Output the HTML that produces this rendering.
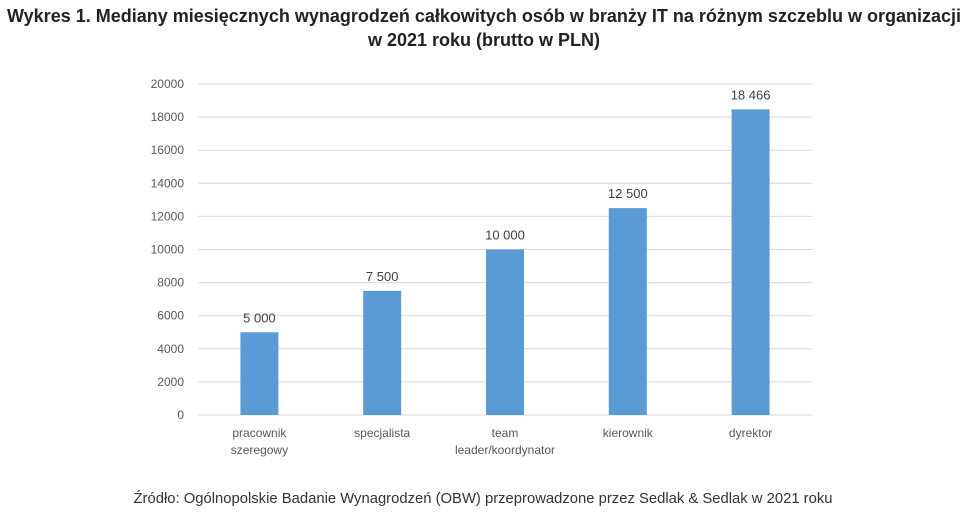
<!DOCTYPE html>
<html><head><meta charset="utf-8"><style>
body{margin:0;background:#fff;width:968px;height:516px;overflow:hidden;font-family:"Liberation Sans",sans-serif}
</style></head><body>
<svg width="968" height="516" xmlns="http://www.w3.org/2000/svg">
<text x="484" y="22" text-anchor="middle" font-size="18" font-weight="bold" fill="#222" textLength="954" lengthAdjust="spacingAndGlyphs">Wykres 1. Mediany miesięcznych wynagrodzeń całkowitych osób w branży IT na różnym szczeblu w organizacji</text>
<text x="484" y="46" text-anchor="middle" font-size="18" font-weight="bold" fill="#222">w 2021 roku (brutto w PLN)</text>
<g id="grid"></g><g id="bars"></g><g id="labels"></g>
<text x="483" y="503" text-anchor="middle" font-size="14.5" fill="#333" textLength="699" lengthAdjust="spacingAndGlyphs">Źródło: Ogólnopolskie Badanie Wynagrodzeń (OBW) przeprowadzone przez Sedlak &amp; Sedlak w 2021 roku</text>
</svg>
<script>
const categories=[["pracownik","szeregowy"],["specjalista"],["team","leader/koordynator"],["kierownik"],["dyrektor"]];
const values=[5000,7500,10000,12500,18466];
const valueLabels=["5 000","7 500","10 000","12 500","18 466"];
const yTicks=[0,2000,4000,6000,8000,10000,12000,14000,16000,18000,20000];
const NS="http://www.w3.org/2000/svg";
const x0=198,x1=812,yBase=415,yTop=84,yMax=20000;
const y=v=>yBase-(v/yMax)*(yBase-yTop);
const band=(x1-x0)/categories.length;
const xc=i=>x0+band*(i+0.5);
function mk(t,a,p){const e=document.createElementNS(NS,t);for(const k in a)e.setAttribute(k,a[k]);p.appendChild(e);return e;}
const g=document.getElementById('grid'),b=document.getElementById('bars'),l=document.getElementById('labels');
yTicks.forEach(v=>{
 const ln=mk('line',{x1:x0,x2:x1,y1:y(v),y2:y(v),stroke:'#d9d9d9','stroke-width':1},g);
 
 
 const t=mk('text',{x:184,y:y(v)+4,'text-anchor':'end','font-size':12,fill:'#595959'},g);
 t.textContent=v;
 
 
});
values.forEach((v,i)=>{
 const r=mk('rect',{x:xc(i)-19,y:y(v),width:38,height:yBase-y(v),fill:'#5b9bd5'},b);
 
 
 const t=mk('text',{x:xc(i),y:y(v)-10,'text-anchor':'middle','font-size':13,fill:'#404040'},l);
 t.textContent=valueLabels[i];
 
 
 categories[i].forEach((s,j)=>{
  const c=mk('text',{x:xc(i),y:437+j*17,'text-anchor':'middle','font-size':12,fill:'#595959'},l);
  c.textContent=s;
  
  
 });
});
</script>
</body></html>
